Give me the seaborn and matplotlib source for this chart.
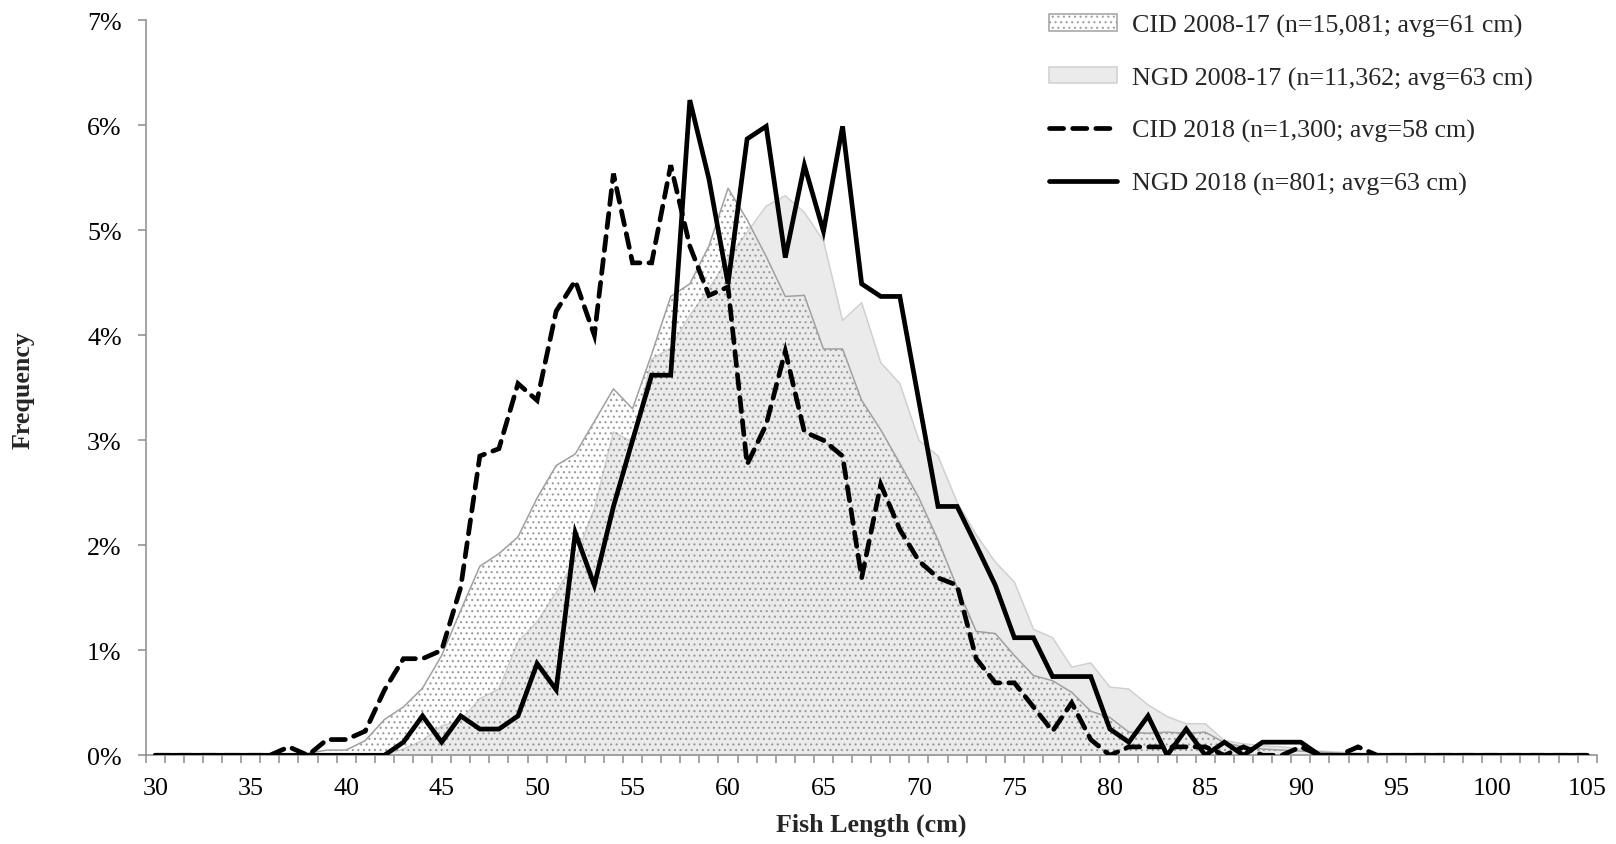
import numpy as np
import pandas as pd
import matplotlib
matplotlib.use("Agg")
import matplotlib.pyplot as plt
import seaborn as sns
from matplotlib.patches import Patch
from matplotlib.lines import Line2D
from matplotlib.ticker import FixedLocator, FuncFormatter

# ---------------- data (frequency in %) ----------------
lengths = list(range(30, 106))

cid_0817 = [0, 0, 0, 0, 0, 0, 0, 0,
            0.02, 0.05, 0.05, 0.14, 0.34, 0.46, 0.64, 0.95, 1.38, 1.80,
            1.92, 2.08, 2.45, 2.76, 2.87, 3.18, 3.49, 3.30, 3.82, 4.37,
            4.49, 4.85, 5.40, 5.10, 4.75, 4.37, 4.38, 3.87, 3.87, 3.38,
            3.10, 2.78, 2.45, 2.05, 1.60, 1.18, 1.16, 0.95, 0.76, 0.71,
            0.60, 0.42, 0.36, 0.22, 0.21, 0.22, 0.21, 0.22, 0.12, 0.08,
            0.06, 0.05, 0.04, 0.03, 0.02, 0.01,
            0, 0, 0, 0, 0, 0, 0, 0, 0, 0, 0, 0]

ngd_0817 = [0, 0, 0, 0, 0, 0, 0, 0, 0, 0, 0, 0,
            0.01, 0.06, 0.14, 0.28, 0.33, 0.54, 0.63, 1.08, 1.27, 1.55,
            1.87, 2.35, 3.08, 2.98, 3.77, 3.88, 4.19, 4.44, 4.73, 4.98,
            5.23, 5.33, 5.17, 4.90, 4.14, 4.31, 3.74, 3.54, 3.00, 2.85,
            2.41, 2.10, 1.84, 1.65, 1.20, 1.12, 0.84, 0.88, 0.65, 0.63,
            0.48, 0.37, 0.30, 0.30, 0.14, 0.11, 0.09, 0.08, 0.06, 0.04,
            0.03, 0.02, 0.01,
            0, 0, 0, 0, 0, 0, 0, 0, 0, 0, 0]

cid_2018 = [0, 0, 0, 0, 0, 0, 0,
            0.08, 0, 0.15, 0.15, 0.23, 0.62, 0.92, 0.92, 1.00, 1.60, 2.85,
            2.92, 3.54, 3.38, 4.23, 4.52, 4.00, 5.54, 4.69, 4.69, 5.62,
            4.85, 4.38, 4.46, 2.77, 3.15, 3.85, 3.08, 3.00, 2.85, 1.69,
            2.58, 2.15, 1.85, 1.69, 1.62, 0.92, 0.69, 0.69, 0.46, 0.23,
            0.50, 0.15, 0, 0.08, 0.08, 0.08, 0.08, 0.08, 0, 0.08,
            0, 0, 0.08, 0, 0, 0.08,
            0, 0, 0, 0, 0, 0, 0, 0, 0, 0, 0, 0]

ngd_2018 = [0, 0, 0, 0, 0, 0, 0, 0, 0, 0, 0, 0, 0,
            0.125, 0.375, 0.125, 0.375, 0.25, 0.25, 0.375, 0.874, 0.624, 2.12,
            1.62, 2.37, 3.00, 3.62, 3.62, 6.24, 5.49, 4.49, 5.87, 5.99,
            4.74, 5.62, 4.99, 5.99, 4.49, 4.37, 4.37, 3.37, 2.37, 2.37,
            2.00, 1.62, 1.12, 1.12, 0.75, 0.75, 0.75, 0.25, 0.125, 0.375,
            0, 0.25, 0, 0.125, 0, 0.125, 0.125, 0.125,
            0, 0, 0, 0, 0, 0, 0, 0, 0, 0, 0, 0, 0, 0, 0]

labels = ["CID 2008-17 (n=15,081; avg=61 cm)",
          "NGD 2008-17 (n=11,362; avg=63 cm)",
          "CID 2018 (n=1,300; avg=58 cm)",
          "NGD 2018 (n=801; avg=63 cm)"]
x_ticks = list(range(30, 106, 5))
y_ticks = list(range(0, 8))

# ---------------- style ----------------
sns.set_style("white")
plt.rcParams["font.family"] = ["Liberation Serif", "DejaVu Serif"]
plt.rcParams["hatch.linewidth"] = 0.8

FS = 18.7
LW = 3.4
DASH = (0, (3.0, 1.9))
axcol = "#8c8c8c"
cid_edge = "#a0a0a0"
dot_col = "#9a9a9a"
ngd_fill = "#ebebeb"
ngd_edge = "#d0d0d0"

fig = plt.figure(figsize=(16.16, 8.45), dpi=100)
ax = fig.add_axes([145.7 / 1616, 1 - 756.3 / 845, 1451 / 1616, 735 / 845])

# areas (historical)
ax.fill_between(lengths, ngd_0817, color=ngd_fill, lw=0, zorder=1)
sns.lineplot(x=lengths, y=ngd_0817, ax=ax, color=ngd_edge, lw=1.1, zorder=1.5)
ax.fill_between(lengths, cid_0817, facecolor="none", edgecolor=dot_col,
                hatch="...", lw=0, zorder=2)
sns.lineplot(x=lengths, y=cid_0817, ax=ax, color=cid_edge, lw=1.1, zorder=2.5)

# 2018 lines
sns.lineplot(x=lengths, y=cid_2018, ax=ax, color="black", lw=LW,
             linestyle=DASH, dash_capstyle="round",
             dash_joinstyle="miter", zorder=3)
sns.lineplot(x=lengths, y=ngd_2018, ax=ax, color="black", lw=LW,
             solid_capstyle="round", solid_joinstyle="miter", zorder=4)

# axes
ax.set_xlim(29.5, 105.5)
ax.set_ylim(0, 7)
ax.xaxis.set_major_locator(FixedLocator(x_ticks))
ax.xaxis.set_minor_locator(FixedLocator(np.arange(29.5, 106, 1.0)))
ax.yaxis.set_major_locator(FixedLocator(y_ticks))
ax.yaxis.set_major_formatter(FuncFormatter(lambda v, p: f"{int(round(v))}%"))

ax.tick_params(axis="x", which="major", bottom=True, length=0, pad=15.4,
               labelsize=FS, labelcolor="black")
ax.tick_params(axis="x", which="minor", bottom=True, length=5.8, width=1.1,
               color=axcol, direction="out")
ax.tick_params(axis="y", which="major", left=True, length=5.8, width=1.1,
               color=axcol, direction="out", pad=11.5, labelsize=FS,
               labelcolor="black")

for s in ["top", "right"]:
    ax.spines[s].set_visible(False)
for s in ["left", "bottom"]:
    ax.spines[s].set_color(axcol)
    ax.spines[s].set_linewidth(1.1)

ax.set_xlabel("Fish Length (cm)", fontsize=FS, fontweight="bold")
ax.set_ylabel("Frequency", fontsize=FS, fontweight="bold")
ax.xaxis.label.set_va("center")
ax.yaxis.label.set_va("center")
ax.xaxis.set_label_coords(0.4999, (756.3 - 825) / 735)
ax.yaxis.set_label_coords((23 - 145.7) / 1451, 0.498)

# legend
handles = [
    Patch(facecolor="white", edgecolor=cid_edge, hatch="...", lw=1.1),
    Patch(facecolor=ngd_fill, edgecolor=ngd_edge, lw=1.1),
    Line2D([], [], color="black", lw=LW, linestyle=DASH,
           dash_capstyle="round"),
    Line2D([], [], color="black", lw=LW, solid_capstyle="round"),
]
fig.legend(handles, labels, loc="upper left",
           bbox_to_anchor=(1049 / 1616, 1 - 15 / 845),
           frameon=False, fontsize=FS, borderpad=0, borderaxespad=0,
           handlelength=2.6, handleheight=0.6, handletextpad=0.58,
           labelspacing=1.14)

fig.savefig("out.png", dpi=100)
